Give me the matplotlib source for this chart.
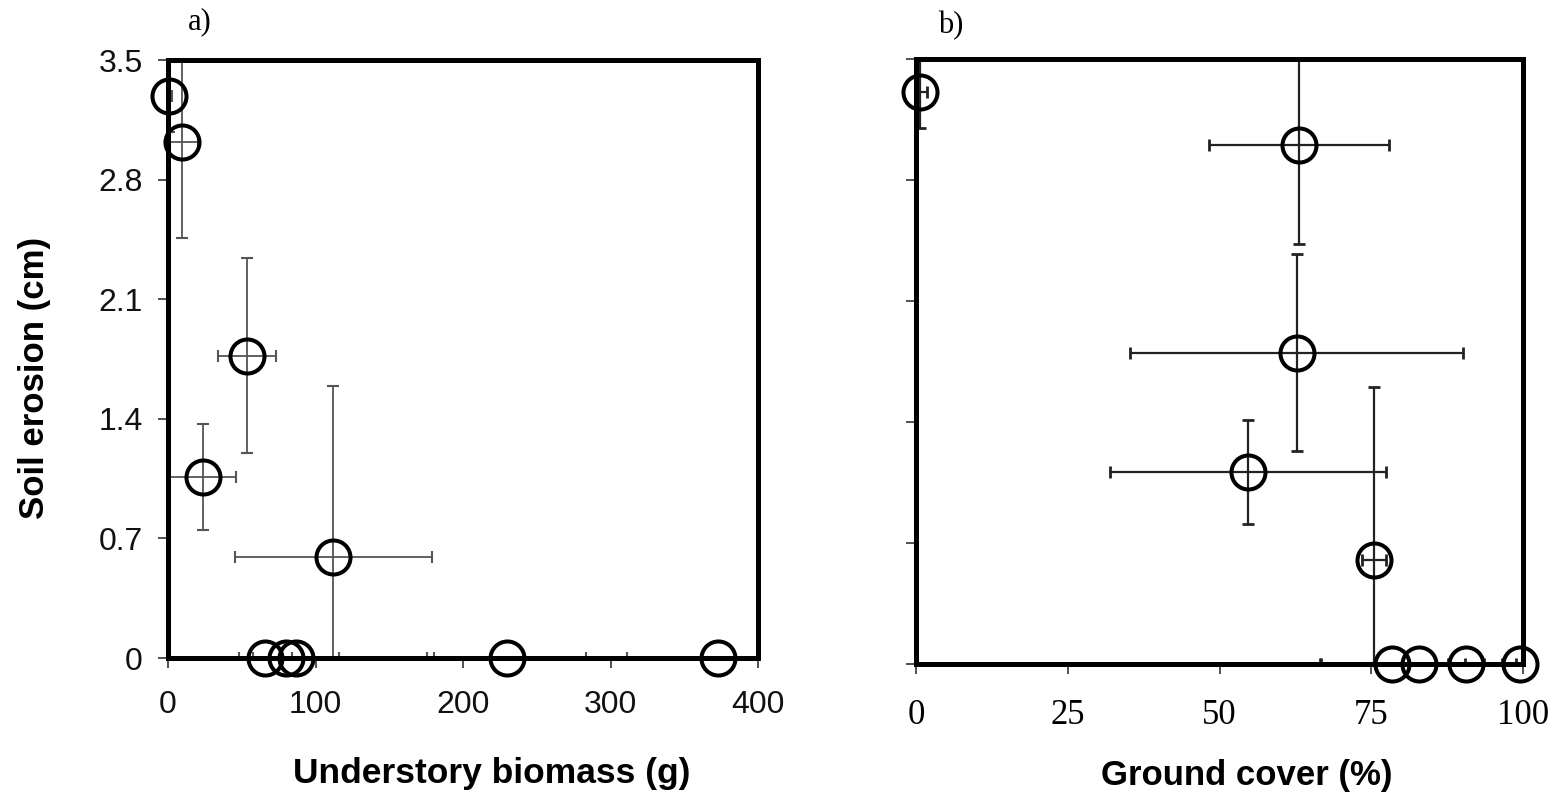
import matplotlib
matplotlib.use("Agg")
import matplotlib.pyplot as plt

# ---- data ----
biomass = [0.9, 9.3, 53.4, 23.5, 111.9, 65.8, 80.0, 86.8, 229.6, 372.9]
biomass_err = [2, 11, 19.5, 22.6, 66.8, 18, 100, 29, 54, 62]
erosion_a = [3.29, 3.02, 1.77, 1.06, 0.59, 0, 0, 0, 0, 0]
erosion_a_err = [0.21, 0.56, 0.57, 0.31, 1.0, 0, 0, 0, 0, 0]

cover = [0.74, 63.1, 62.7, 54.7, 75.5, 78.5, 82.8, 90.6, 99.5]
cover_err = [1, 14.9, 27.4, 22.7, 2, 12, 16, 3, 3]
erosion_b = [3.31, 3.00, 1.80, 1.11, 0.60, 0, 0, 0, 0]
erosion_b_err = [0.21, 0.57, 0.57, 0.30, 1.0, 0, 0, 0, 0]

y_ticks = [0, 0.7, 1.4, 2.1, 2.8, 3.5]
y_ticklabels = ["0", "0.7", "1.4", "2.1", "2.8", "3.5"]
xa_ticks = [0, 100, 200, 300, 400]
xb_ticks = [0, 25, 50, 75, 100]

W, H = 1558, 798
fig = plt.figure(figsize=(W / 100, H / 100), dpi=100)

def frac(l, r, t, b):
    return [l / W, 1 - b / H, (r - l) / W, (b - t) / H]

ax1 = fig.add_axes(frac(168, 758, 60, 658))
ax2 = fig.add_axes(frac(916, 1523, 59, 664))

ms = 24.5
mew = 2.9

def style(ax):
    for s in ax.spines.values():
        s.set_linewidth(3.6)
        s.set_color("black")
    ax.tick_params(direction="out", length=7, width=1.2, color="#333333")

# panel a
ax1.errorbar(biomass, erosion_a, xerr=biomass_err, yerr=erosion_a_err, fmt="none",
             ecolor="#555555", elinewidth=1.3, capsize=4, capthick=1.5)
ax1.plot(biomass, erosion_a, "o", ms=ms, mfc="none", mec="black", mew=mew,
         clip_on=False, zorder=3)
ax1.set_xlim(0, 400)
ax1.set_ylim(0, 3.5)
ax1.set_xticks(xa_ticks)
ax1.set_yticks(y_ticks)
ax1.set_yticklabels(y_ticklabels)
style(ax1)
ax1.tick_params(axis="x", pad=16)
ax1.tick_params(axis="y", pad=11)
for lab in ax1.get_xticklabels() + ax1.get_yticklabels():
    lab.set_fontfamily("Liberation Sans")
    lab.set_fontsize(23)
    lab.set_color("#111111")

# panel b
ax2.errorbar(cover, erosion_b, xerr=cover_err, yerr=erosion_b_err, fmt="none",
             ecolor="#222222", elinewidth=1.6, capsize=4.5, capthick=2)
ax2.plot(cover, erosion_b, "o", ms=ms, mfc="none", mec="black", mew=mew,
         clip_on=False, zorder=3)
ax2.set_xlim(0, 100)
ax2.set_ylim(0, 3.5)
ax2.set_xticks(xb_ticks)
ax2.set_yticks(y_ticks)
ax2.set_yticklabels([])
style(ax2)
ax2.tick_params(axis="x", pad=18)
for lab in ax2.get_xticklabels():
    lab.set_fontfamily("Liberation Serif")
    lab.set_fontsize(25)

# labels
fig.text(35 / W, 1 - 378 / H, "Soil erosion (cm)", rotation=90, ha="center", va="center",
         fontfamily="Liberation Sans", fontweight="bold", fontsize=25)
fig.text(492 / W, 1 - 773 / H, "Understory biomass (g)", ha="center", va="center",
         fontfamily="Liberation Sans", fontweight="bold", fontsize=25.5)
fig.text(1247 / W, 1 - 776 / H, "Ground cover (%)", ha="center", va="center",
         fontfamily="Liberation Sans", fontweight="bold", fontsize=25)
fig.text(188 / W, 1 - 22 / H, "a)", ha="left", va="center",
         fontfamily="Liberation Serif", fontsize=22)
fig.text(938 / W, 1 - 26 / H, "b)", ha="left", va="center",
         fontfamily="Liberation Serif", fontsize=22)

fig.savefig("out.png", dpi=100)
